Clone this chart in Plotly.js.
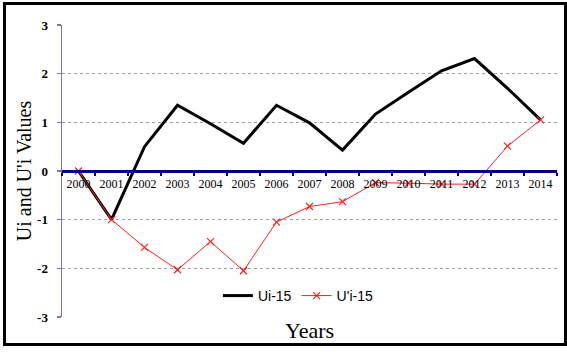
<!DOCTYPE html>
<html>
<head>
<meta charset="utf-8">
<script src="https://cdn.plot.ly/plotly-3.0.1.min.js"></script>
<style>html,body{margin:0;padding:0;background:#fff;}#chart{width:567px;height:352px;}</style>
</head>
<body>
<div id="chart"></div>
<script>
var years = ['2000','2001','2002','2003','2004','2005','2006','2007','2008','2009','2010','2011','2012','2013','2014'];
var ui15 = [0, -1.0, 0.5, 1.35, 0.97, 0.57, 1.35, 0.99, 0.43, 1.17, 1.62, 2.06, 2.31, 1.70, 1.05];
var uPrime15 = [0, -1.0, -1.57, -2.03, -1.45, -2.05, -1.05, -0.73, -0.63, -0.24, -0.25, -0.27, -0.27, 0.51, 1.05];
var yTicks = [-3, -2, -1, 0, 1, 2, 3];

var serif = '"Liberation Serif", "Times New Roman", serif';

var traces = [
  {x: years, y: ui15, name: 'Ui-15', type: 'scatter', mode: 'lines',
   line: {color: '#000000', width: 3}},
  {x: years, y: uPrime15, name: "U'i-15", type: 'scatter', mode: 'lines+markers',
   line: {color: '#ff2020', width: 1}, marker: {symbol: 'x-thin', size: 7, color: '#ff2020', line: {color: '#ff2020', width: 1.2}}}
];

var layout = {
  width: 567, height: 352,
  margin: {l: 62, r: 10, t: 25, b: 35},
  paper_bgcolor: '#ffffff', plot_bgcolor: '#ffffff',
  showlegend: true,
  legend: {orientation: 'h', x: 0.315, xanchor: 'left', y: 0.072, yanchor: 'middle',
           font: {family: 'Liberation Sans', size: 14, color: '#000'}, bgcolor: 'rgba(0,0,0,0)',
           itemwidth: 30, tracegroupgap: 0},
  xaxis: {
    type: 'category', range: [-0.5, 14.5], anchor: 'free', position: 0.5,
    showline: true, linecolor: '#000080', linewidth: 3,
    ticks: 'outside', tickson: 'boundaries', ticklen: 3, tickwidth: 2, tickcolor: '#000080',
    showgrid: false, zeroline: false, tickangle: 0,
    tickfont: {family: serif, size: 12, color: '#000'},
    ticklabelstandoff: 1
  },
  yaxis: {
    range: [-3, 3], tickvals: yTicks, ticktext: yTicks.map(String),
    showline: true, linecolor: '#7878b8', linewidth: 1.5,
    ticks: 'outside', ticklen: 4, tickwidth: 1.5, tickcolor: '#7878b8',
    showgrid: true, gridcolor: '#a0a0a0', griddash: 'dot', gridwidth: 1,
    zeroline: false, automargin: true,
    tickfont: {family: serif, size: 13, color: '#000', weight: 'bold'},
    ticklabelstandoff: 6,
    title: {text: "Ui and U'i Values", standoff: 0, font: {family: serif, size: 20, color: '#000'}}
  },
  annotations: [
    {text: 'Years', xref: 'paper', yref: 'paper', x: 0.5, xanchor: 'center',
     y: (317 - 330) / 292, yanchor: 'middle', showarrow: false,
     font: {family: serif, size: 22, color: '#000'}}
  ],
  shapes: [
    {type: 'rect', xref: 'paper', yref: 'paper',
     x0: (4.5 - 62) / 495, x1: (565.5 - 62) / 495,
     y0: (317 - 344.5) / 292, y1: (317 - 3.5) / 292,
     line: {color: '#000', width: 3}, fillcolor: 'rgba(0,0,0,0)', layer: 'above'}
  ]
};

Plotly.newPlot('chart', traces, layout, {staticPlot: true, displayModeBar: false});
</script>
</body>
</html>
